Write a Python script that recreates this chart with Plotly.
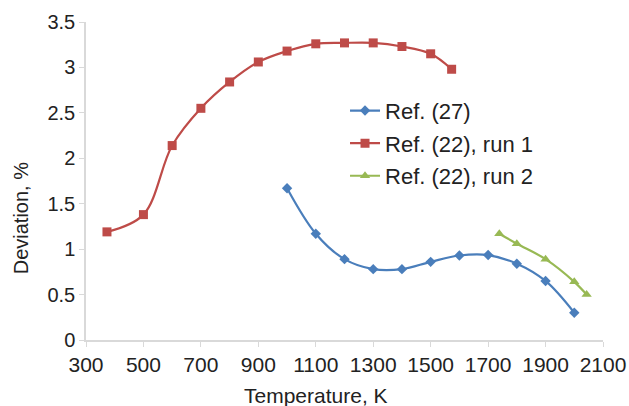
import plotly.graph_objects as go

# Data
t_ref27 = [1000, 1100, 1200, 1300, 1400, 1500, 1600, 1700, 1800, 1900, 2000]
d_ref27 = [1.67, 1.17, 0.89, 0.78, 0.78, 0.86, 0.93, 0.935, 0.84, 0.65, 0.30]

t_run1 = [373, 500, 600, 700, 800, 900, 1000, 1100, 1200, 1300, 1400, 1500, 1573]
d_run1 = [1.19, 1.38, 2.14, 2.55, 2.84, 3.06, 3.18, 3.26, 3.27, 3.27, 3.23, 3.15, 2.98]

t_run2 = [1739, 1800, 1900, 2000, 2043]
d_run2 = [1.17, 1.06, 0.89, 0.64, 0.50]

x_ticks = list(range(300, 2101, 200))
y_ticks = [0, 0.5, 1, 1.5, 2, 2.5, 3, 3.5]
y_ticktext = ["0", "0.5", "1", "1.5", "2", "2.5", "3", "3.5"]

names = ["Ref. (27)", "Ref. (22), run 1", "Ref. (22), run 2"]
colors = ["#4a7ebb", "#be4b48", "#98b954"]

fig = go.Figure()
fig.add_trace(go.Scatter(x=t_ref27, y=d_ref27, name=names[0], mode="lines+markers",
                         line=dict(color=colors[0], width=2.2, shape="spline"),
                         marker=dict(symbol="diamond", size=8, color=colors[0]),
                         legendgroup="a"))
fig.add_trace(go.Scatter(x=t_run1, y=d_run1, name=names[1], mode="lines+markers",
                         line=dict(color=colors[1], width=2.2, shape="spline"),
                         marker=dict(symbol="square", size=9, color=colors[1]),
                         legendgroup="b"))
fig.add_trace(go.Scatter(x=t_run2, y=d_run2, name=names[2], mode="lines+markers",
                         line=dict(color=colors[2], width=2.2, shape="spline"),
                         marker=dict(symbol="triangle-up", size=9, color=colors[2]),
                         legendgroup="c"))

font_family = "Liberation Sans, Arial, sans-serif"
fig.update_layout(
    width=629, height=406,
    margin=dict(l=86, r=26, t=22, b=66, autoexpand=False),
    paper_bgcolor="white", plot_bgcolor="white",
    font=dict(family=font_family, size=20, color="#222222"),
    showlegend=True,
    legend=dict(x=0.501, y=0.787, xanchor="left", yanchor="top",
                font=dict(size=22), bgcolor="rgba(0,0,0,0)",
                tracegroupgap=1, traceorder="grouped"),
    xaxis=dict(range=[300, 2100], tickvals=x_ticks, automargin=False,
               showgrid=False, zeroline=False, showline=True, linecolor="#d9d9d9",
               linewidth=1.5, ticks="outside", ticklen=5, tickcolor="#d9d9d9",
               tickfont=dict(size=21)),
    yaxis=dict(range=[0, 3.5], tickvals=y_ticks, ticktext=y_ticktext, automargin=False,
               showgrid=False, zeroline=False, showline=True, linecolor="#d9d9d9",
               linewidth=1.5, ticks="outside", ticklen=5, tickcolor="#d9d9d9",
               tickfont=dict(size=20)),
    annotations=[
        dict(text="Temperature, K", xref="paper", yref="paper", x=0.445, y=-0.175,
             xanchor="center", yanchor="middle", showarrow=False, font=dict(size=21)),
        dict(text="Deviation, %", xref="paper", yref="paper", x=-0.125, y=0.384,
             xanchor="center", yanchor="middle", textangle=-90, showarrow=False,
             font=dict(size=20)),
    ],
)

fig.write_html("out.html")
